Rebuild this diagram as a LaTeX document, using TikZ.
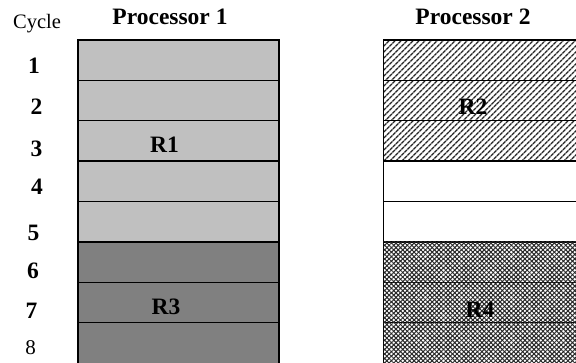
\documentclass[tikz,border=0pt]{standalone}
\usepackage{fontspec}
\setmainfont{Liberation Serif}
\usetikzlibrary{patterns.meta}
\definecolor{lightcell}{RGB}{192,192,192}
\definecolor{darkcell}{RGB}{128,128,128}
\tikzset{
  cell/.style={draw=black, line width=1.3pt, rectangle, inner sep=0pt, outer sep=0pt,
    minimum height=40.375pt},
  lastcell/.style={minimum height=50pt},
  p1cell/.style={cell, minimum width=201pt},
  p2cell/.style={cell, minimum width=230pt},
  lightfill/.style={fill=lightcell},
  darkfill/.style={fill=darkcell},
  hatchfill/.style={pattern={Lines[angle=45,distance=4pt,line width=1.6pt]}, pattern color=black!85},
  crossfill/.style={postaction={pattern={Lines[angle=45,distance=3.2pt,line width=1pt]}, pattern color=black!85},
                    postaction={pattern={Lines[angle=-45,distance=3.2pt,line width=1pt]}, pattern color=black!85}},
  whitefill/.style={fill=white},
  hdr/.style={font=\fontsize{23.5}{26}\selectfont\bfseries, anchor=base, inner sep=0pt},
  num/.style={font=\fontsize{23.5}{26}\selectfont\bfseries, anchor=base, inner sep=0pt},
  numreg/.style={font=\fontsize{21}{24}\selectfont, anchor=base, inner sep=0pt},
  reg/.style={font=\fontsize{23.5}{26}\selectfont\bfseries, anchor=base, inner sep=0pt},
  cyc/.style={font=\fontsize{20.5}{24}\selectfont, anchor=base, inner sep=0pt},
}
\begin{document}
\begin{tikzpicture}[x=1pt,y=-1pt]
\useasboundingbox (0,0) rectangle (576,363);
\clip (0,0) rectangle (576,363);
\fill[white] (0,0) rectangle (576,363);
% Processor 1 cells
\foreach \i/\s in {1/lightfill,2/lightfill,3/lightfill,4/lightfill,5/lightfill,6/darkfill,7/darkfill}{
  \node[p1cell,\s] (p1r\i) at (178.5, {40+(\i-0.5)*40.375}) {};
}
\node[p1cell,darkfill,lastcell,anchor=north] (p1r8) at (p1r7.south) {};
% Processor 2 cells
\foreach \i/\s in {1/hatchfill,2/hatchfill,3/hatchfill,4/whitefill,5/whitefill,6/crossfill,7/crossfill}{
  \node[p2cell,\s] (p2r\i) at (498.5, {40+(\i-0.5)*40.375}) {};
}
\node[p2cell,crossfill,lastcell,anchor=north] (p2r8) at (p2r7.south) {};
% headers
\node[cyc] (cycle) at (37,29) {Cycle};
\node[hdr] (proc1) at (170,25) {Processor 1};
\node[hdr] (proc2) at (473,25) {Processor 2};
% cycle numbers
\node[num] (n1) at (34,74) {1};
\node[num] (n2) at (36.5,115) {2};
\node[num] (n3) at (36.5,157) {3};
\node[num] (n4) at (37,195) {4};
\node[num] (n5) at (33.5,241) {5};
\node[num] (n6) at (33,279) {6};
\node[num] (n7) at (31.5,319) {7};
\node[numreg] (n8) at (30.5,355) {8};
% region labels
\node[reg] (r1) at (164.5,153) {R1};
\node[reg] (r2) at (473,115) {R2};
\node[reg] (r3) at (166,315) {R3};
\node[reg] (r4) at (480,318) {R4};
\end{tikzpicture}
\end{document}
